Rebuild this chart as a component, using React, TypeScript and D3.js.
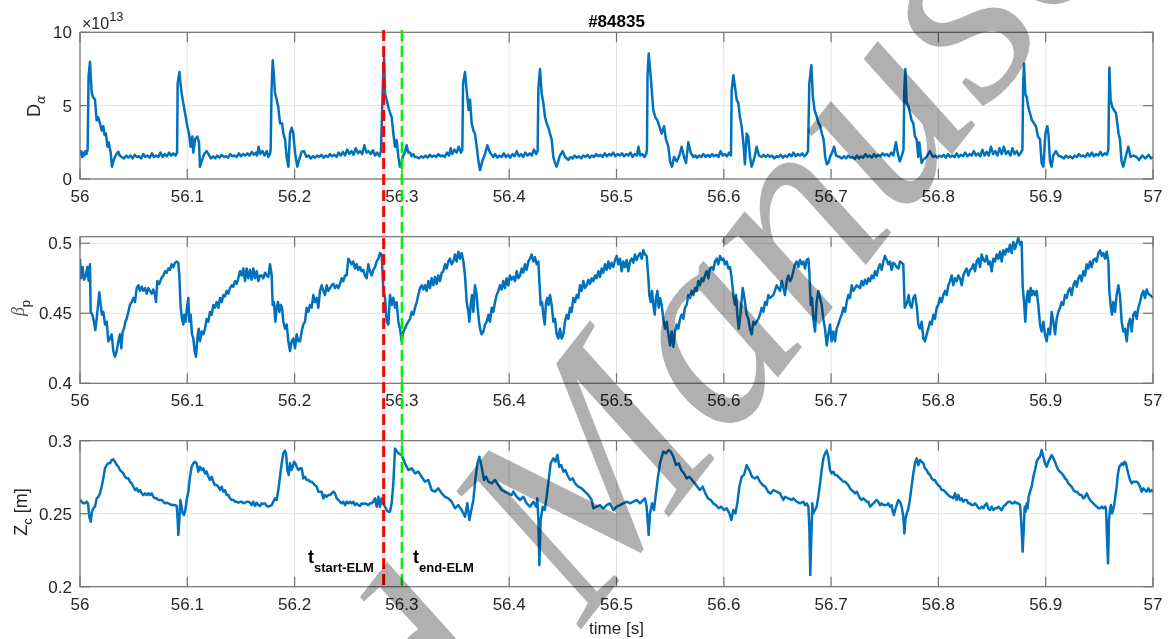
import React from 'react';
import * as d3 from 'd3';

// Times are given in ms after T0 (seconds)
const T0 = 56;

// D-alpha signal, units of 1e13
const dAlpha: [number, number][] = [
  [0,1.6],[1,1.9],[2,1.5],[3,1.8],[4,1.6],[5,1.9],[6,1.7],[7.1,2.0],[8.0,7.0],[9.3,8.0],[10.9,5.9],[12,5.6],[14,5.4],[15.5,4.0],[17,4.2],[18.6,3.8],[20.2,3.3],[21.7,3.6],[23,3.0],[24.2,3.1],[25.5,2.2],[26.7,2.5],[28.6,1.8],[29.8,0.84],[31,1.2],[32.6,1.5],[34,1.7],[35.7,1.86],[37,1.6],[38.8,1.5],[41,1.4],[43,1.6],[45,1.45],[47,1.6],[49,1.4],[51,1.65],[53,1.5],[55,1.55],[57,1.4],[59,1.7],[61,1.5],[63,1.6],[65,1.45],[67,1.75],[69,1.5],[71,1.6],[73,1.5],[75,1.8],[77,1.5],[79,1.7],[81,1.55],[83,1.8],[85,1.6],[87,1.75],[89,1.6],[90.5,1.8],
  [91.0,6.5],[92.6,7.3],[93.5,6.6],[94.8,5.8],[95.7,5.4],[97.9,4.5],[100.0,3.6],[101.6,3.1],[103.1,2.2],[104.7,2.9],[105.6,1.8],[107.2,2.7],[109.4,2.9],[110.9,2.5],[111.8,0.84],[113.4,1.2],[115.6,1.7],[118.1,1.9],[120.5,1.6],[122,1.4],[124,1.55],[126,1.4],[128,1.6],[130,1.45],[132,1.65],[134,1.5],[136,1.55],[138,1.45],[140,1.7],[142,1.55],[144,1.6],[146,1.5],[148,1.75],[150,1.55],[152,1.7],[154,1.6],[156,1.75],[158,1.6],[160,1.85],[162,1.65],[164,1.8],[165,1.6],[166.5,2.2],[168,1.7],[170,1.9],[172,1.6],[174,1.9],[175.5,1.5],[177,1.7],
  [177.7,2.0],[178.5,6.0],[179.6,8.1],[180.8,6.96],[181.7,5.9],[183.3,5.4],[184.8,4.9],[186.4,3.8],[188.3,3.8],[189.5,3.1],[191.1,2.7],[192.6,1.5],[194.2,0.84],[195.7,3.1],[197.3,3.5],[198.8,3.1],[200.4,1.8],[202.5,0.84],[205.0,1.5],[206.6,1.86],[208.8,1.9],[211,1.5],[213,1.6],[215,1.4],[217,1.55],[219,1.45],[221,1.6],[223,1.5],[225,1.65],[227,1.45],[229,1.6],[231,1.5],[233,1.7],[235,1.55],[237,1.65],[239,1.5],[241,1.8],[243,1.6],[245,1.85],[247,1.6],[249,2.0],[251,1.7],[253,1.9],[255,1.65],[257,2.1],[259,1.75],[261,1.9],[263,1.7],[265,2.3],[267,1.8],[269,1.9],[271,1.7],[273,1.95],[275,1.6],[277,1.8],[279,1.55],[280.5,1.9],
  [281.5,4.5],[282.5,7.0],[283.4,8.3],[284.3,5.8],[285.8,5.4],[287.4,4.9],[289,4.5],[290.5,4.2],[292,3.1],[293.6,2.2],[295.1,2.65],[296.7,1.5],[298.2,0.84],[299.5,1.0],[300.7,1.5],[302.9,1.86],[304.4,2.3],[306,1.8],[307.6,1.8],[309,1.55],[310.7,1.7],[312,1.5],[313.8,1.5],[316,1.4],[318,1.55],[320,1.45],[322,1.6],[324,1.45],[326,1.65],[328,1.5],[330,1.6],[332,1.5],[334,1.7],[336,1.55],[338,1.6],[340,1.5],[342,1.8],[344,1.6],[345.5,2.1],[347,1.7],[349,2.0],[351,1.8],[353,2.2],[355,1.8],[356.3,2.0],
  [357,6.5],[358.8,7.3],[360,6.3],[361.0,5.6],[362.2,4.7],[363.5,5.4],[365.0,3.8],[366.6,3.3],[368.1,3.1],[369.7,2.2],[371.2,1.3],[372.8,0.6],[375.3,1.3],[377.5,1.7],[379.6,2.3],[382.1,1.8],[385.2,1.5],[387,1.7],[389,1.45],[391,1.6],[393,1.5],[395,1.75],[397,1.5],[399,1.65],[401,1.45],[403,1.7],[405,1.55],[407,1.9],[409,1.55],[411,1.7],[413,1.5],[415,1.8],[417,1.6],[419,1.75],[421,1.6],[423,2.0],[425,1.7],[426.5,1.9],
  [427.2,6.2],[428.7,7.5],[430.3,5.8],[431.8,5.2],[433.4,4.2],[434.9,3.8],[436.5,3.5],[438.0,3.1],[439.6,2.7],[441.1,1.5],[442.7,1.1],[444.2,0.84],[447.3,1.6],[449.8,1.9],[452.0,1.5],[455.1,1.3],[457,1.5],[459,1.4],[461,1.6],[463,1.45],[465,1.55],[467,1.4],[469,1.6],[471,1.5],[473,1.65],[475,1.45],[477,1.6],[479,1.5],[481,1.7],[483,1.55],[485,1.65],[487,1.5],[489,1.75],[491,1.55],[493,1.7],[495,1.6],[497,1.8],[499,1.55],[501,1.7],[503,1.6],[505,1.75],[507,1.55],[509,1.7],[511,1.6],[513,1.8],[515,1.5],[517,1.7],[519,1.6],[520.5,2.2],[522,1.6],[524,1.7],[526,1.5],[527.7,1.7],[528.4,2.0],
  [528.9,7.0],[530.0,8.55],[531.9,6.96],[532.8,6.1],[534.3,4.7],[536.2,4.2],[538.1,4.0],[539.9,3.6],[542.1,3.1],[544.3,3.6],[546.1,2.7],[548.3,2.2],[549.9,1.2],[551.7,0.84],[553.6,1.5],[556.1,1.2],[558.6,1.6],[560.7,2.2],[562.9,1.5],[564.8,1.1],[566.9,2.5],[569.1,1.8],[571.6,1.5],[573.5,1.6],[575,1.45],[577,1.6],[579,1.5],[581,1.7],[583,1.5],[585,1.65],[587,1.5],[589,1.7],[591,1.55],[593,1.65],[595,1.5],[597,1.9],[599,1.6],[601,1.7],[603,1.55],[605,1.8],[606.7,1.6],
  [607.3,6.0],[608.9,7.07],[610.4,6.3],[612.0,5.4],[613.5,5.2],[615.1,4.2],[616.6,3.6],[618.2,2.5],[619.7,1.0],[621.3,3.1],[622.8,2.9],[624.4,1.5],[625.9,0.84],[627.5,1.2],[629.0,1.6],[630.6,2.2],[632.8,1.6],[635.3,1.5],[637,1.65],[639,1.5],[641,1.65],[643,1.5],[645,1.6],[647,1.4],[649,1.55],[651,1.5],[653,1.65],[655,1.45],[657,1.6],[659,1.5],[661,1.7],[663,1.55],[665,1.8],[667,1.55],[669,1.7],[671,1.6],[673,1.75],[675,1.55],[677,1.7],[678.5,1.9],
  [679.7,6.5],[681.6,7.75],[683,5.6],[684.6,4.7],[686.8,4.2],[688.3,3.8],[689.9,3.6],[691.4,3.1],[693,2.7],[694.5,1.5],[696,1.0],[697.5,1.1],[699,1.5],[701.5,1.9],[702.8,2.2],[704.6,1.6],[708,1.5],[710,1.4],[712,1.55],[714,1.4],[716,1.6],[718,1.45],[720,1.5],[722,1.35],[724,1.6],[726,1.4],[728,1.55],[730,1.45],[732,1.7],[734,1.5],[736,1.6],[738,1.45],[740,1.7],[742,1.5],[744,1.65],[746,1.55],[748,1.75],[750,1.6],[752,1.7],[754,1.55],[756,1.8],[758,1.6],[760.4,2.5],[762,1.8],[764,1.2],[766,1.6],[767.5,2.0],
  [768.2,6.0],[769.2,7.5],[770.4,5.2],[771.9,5.0],[773.5,4.5],[775,4.0],[776.6,3.8],[778.1,2.9],[779.7,2.7],[781.2,1.5],[782.2,2.5],[784.3,1.1],[785.8,1.3],[788.9,1.5],[792,1.9],[795,1.5],[797,1.6],[799,1.45],[801,1.6],[803,1.5],[805,1.65],[807,1.45],[809,1.7],[811,1.5],[813,1.6],[815,1.5],[817,1.75],[819,1.5],[821,1.65],[823,1.55],[825,1.8],[827,1.55],[829,1.7],[831,1.6],[833,1.9],[835,1.6],[837,1.75],[839,1.55],[841,2.0],[843,1.6],[845,1.85],[847,1.6],[849,2.2],[851,1.7],[853,1.9],[855,1.6],[857,2.1],[859,1.7],[861,2.2],[863,1.7],[865,1.9],[867,1.6],[869,2.1],[871,1.7],[873,1.9],[875,1.6],[877,1.8],[878.3,2.0],
  [879,6.5],[879.8,7.87],[881,5.8],[882.3,5.6],[883.8,4.9],[885.3,4.5],[887.2,4.0],[889.1,3.8],[890.9,3.6],[892.8,2.9],[894.7,2.7],[896.2,1.1],[897.8,0.84],[899.7,3.1],[901.5,3.6],[902.7,2.9],[904,1.2],[905.5,0.84],[907,1.6],[909.5,1.9],[911.7,1.6],[915,1.5],[917,1.4],[919,1.6],[921,1.45],[923,1.55],[925,1.4],[927,1.6],[929,1.5],[931,1.7],[933,1.55],[935,1.6],[937,1.5],[939,1.75],[941,1.55],[943,1.8],[945,1.55],[947,1.7],[949,1.6],[951,1.85],[953,1.6],[955,1.75],[957,1.65],[958.4,2.0],
  [959.3,7.6],[960.5,5.4],[962.1,4.9],[963.6,4.7],[965.5,4.5],[966.7,3.8],[967.9,3.1],[969.2,2.7],[970.7,1.2],[972.3,0.84],[974.8,1.6],[977,2.2],[979.1,1.5],[981.6,1.6],[984.7,1.5],[987,1.3],[990,1.6],[993,1.4],[996,1.65],[998,1.4],[1000,1.5],
];

// beta_p
const betaP: [number, number][] = [
  [0,.489],[0.93,.475],[2.49,.483],[3.73,.474],[5.59,.477],[6.83,.483],[8.08,.473],[9.32,.485],[9.94,.451],[11.49,.449],[13.05,.444],[14.29,.438],[15.53,.446],[17.09,.458],[18.02,.465],[19.26,.456],[20.5,.449],[21.75,.451],[23.3,.442],[24.85,.444],[26.41,.430],[27.96,.432],[29.51,.435],[31.07,.423],[32.62,.419],[34.17,.423],[35.73,.430],[37.28,.435],[38.52,.425],[39.76,.437],[41.01,.439],[42.25,.444],[43.49,.446],[45.05,.451],[46.6,.456],[48.15,.458],[49.71,.461],[51.26,.458],[52.81,.468],[54.37,.470],[55.92,.466],[57.47,.469],[59.03,.466],[60.58,.468],[62.13,.464],[63.69,.468],[65.24,.466],[66.79,.464],[68.35,.467],[69.9,.463],[70.83,.458],[72.07,.473],[73.94,.471],[75.8,.475],[77.67,.477],[79.22,.480],[80.77,.479],[82.33,.482],[83.88,.481],[85.43,.485],[86.98,.483],[88.54,.486],[90.09,.487],[91.64,.486],
  [92.58,.477],[93.82,.454],[95.06,.446],[96.3,.442],[97.24,.449],[98.48,.444],[99.72,.454],[100.96,.461],[101.9,.444],[103.14,.449],[104.38,.435],[105.62,.432],[106.87,.423],[108.11,.419],[109.35,.432],[110.59,.439],[111.84,.430],[113.39,.437],[114.94,.435],[116.5,.439],[118.05,.446],[119.6,.444],[121.16,.451],[122.71,.449],[124.26,.456],[125.82,.454],[127.37,.458],[128.92,.454],[130.48,.461],[132.03,.458],[133.58,.463],[135.14,.462],[136.69,.466],[138.24,.464],[139.8,.468],[141.35,.470],[142.9,.469],[144.46,.473],[146.01,.471],[147.56,.475],[149.12,.480],[150.67,.477],[152.22,.482],[153.78,.473],[155.33,.482],[156.88,.475],[158.44,.481],[159.99,.474],[161.54,.482],[163.1,.475],[164.65,.480],[166.2,.473],[167.76,.477],[169.31,.477],[170.86,.475],[172.41,.479],[173.97,.477],[175.52,.476],[177.07,.485],[178.63,.477],
  [179.56,.456],[180.8,.458],[182.05,.444],[183.29,.454],[184.53,.458],[185.77,.451],[187.02,.456],[188.26,.454],[189.5,.444],[191.06,.439],[192.61,.442],[194.16,.430],[195.72,.423],[197.27,.430],[198.82,.432],[200.38,.425],[201.93,.435],[203.48,.430],[205.04,.430],[206.59,.437],[208.14,.442],[209.7,.444],[211.25,.454],[212.8,.451],[214.36,.456],[215.91,.454],[217.46,.463],[219.01,.458],[220.57,.461],[222.12,.454],[223.67,.466],[225.23,.470],[226.78,.466],[228.33,.463],[229.89,.470],[231.44,.466],[232.99,.468],[234.55,.470],[236.1,.471],[237.65,.468],[239.21,.470],[240.76,.468],[242.31,.471],[243.87,.475],[245.42,.473],[246.97,.477],[248.53,.477],[250.08,.489],[251.63,.487],[253.19,.485],[254.74,.487],[256.29,.482],[257.85,.485],[259.4,.481],[260.95,.483],[262.5,.480],[264.06,.481],[265.61,.477],[267.17,.475],[268.72,.485],[270.27,.480],[271.83,.477],[273.38,.481],[274.93,.483],[276.49,.487],[278.04,.489],[279.59,.493],[281.15,.492],
  [282.7,.466],[284.3,.461],[285.8,.444],[287.4,.442],[288.9,.463],[290.5,.456],[292.0,.461],[293.6,.454],[295.1,.458],[296.7,.444],[298.2,.439],[299.8,.430],[301.3,.437],[302.9,.439],[304.4,.442],[306.0,.444],[307.6,.446],[309.1,.451],[310.7,.449],[312.2,.454],[313.8,.458],[315.3,.463],[316.9,.468],[318.4,.470],[320.0,.467],[321.5,.470],[323.1,.466],[324.6,.473],[326.2,.468],[327.7,.475],[329.3,.470],[330.8,.476],[332.4,.471],[333.9,.477],[335.5,.473],[337.1,.479],[338.6,.480],[340.2,.485],[341.7,.482],[343.3,.487],[344.8,.489],[346.4,.485],[347.9,.487],[349.5,.492],[351.0,.487],[352.6,.494],[354.2,.489],[355.7,.493],[357.3,.487],
  [358.8,.477],[360.4,.458],[361.9,.451],[362.9,.444],[364.1,.456],[365.3,.463],[366.6,.451],[368.1,.470],[369.7,.463],[370.6,.454],[371.9,.444],[372.8,.439],[374.3,.435],[375.9,.437],[377.5,.442],[379.0,.444],[380.6,.449],[382.1,.444],[383.7,.454],[385.2,.451],[386.8,.458],[388.3,.463],[389.9,.466],[391.4,.470],[393.0,.467],[394.5,.473],[396.1,.468],[397.6,.475],[399.2,.470],[400.7,.477],[402.3,.474],[403.9,.476],[405.4,.473],[407.0,.480],[408.5,.475],[410.1,.477],[411.6,.482],[413.2,.479],[414.7,.485],[416.3,.481],[417.8,.487],[419.4,.489],[420.9,.492],[422.5,.487],[424.0,.490],[425.6,.485],[427.2,.487],
  [428.1,.473],[429.3,.456],[430.6,.458],[431.8,.449],[433.1,.442],[434.3,.458],[435.5,.461],[436.8,.456],[438.0,.463],[439.6,.456],[441.1,.444],[442.7,.446],[444.2,.435],[445.8,.432],[447.3,.439],[448.9,.432],[450.5,.435],[452.0,.444],[453.6,.449],[455.1,.446],[456.7,.454],[458.2,.451],[459.8,.461],[461.3,.458],[462.9,.463],[464.4,.461],[466.0,.470],[467.5,.466],[469.1,.473],[470.6,.468],[472.2,.470],[473.8,.474],[475.3,.471],[476.9,.475],[478.4,.473],[480.0,.477],[481.5,.475],[483.1,.480],[484.6,.476],[486.2,.482],[487.7,.479],[489.3,.485],[490.8,.481],[492.4,.487],[493.9,.482],[495.5,.486],[497.1,.483],[498.6,.488],[500.2,.491],[501.7,.485],[503.3,.489],[504.8,.480],[506.4,.487],[507.9,.483],[509.5,.488],[511.0,.480],[512.6,.487],[514.1,.489],[515.7,.486],[517.2,.492],[518.8,.488],[520.4,.491],[521.9,.493],[523.5,.489],[525.0,.495],[526.6,.492],[528.1,.491],
  [529.7,.475],[530.6,.463],[531.9,.458],[533.1,.466],[534.3,.456],[535.6,.449],[536.8,.461],[538.1,.466],[539.3,.454],[540.5,.461],[542.1,.456],[543.6,.446],[545.2,.439],[546.8,.444],[548.3,.435],[549.9,.427],[551.4,.437],[553.0,.426],[554.5,.437],[556.1,.442],[557.6,.439],[559.2,.446],[560.7,.449],[562.3,.446],[563.8,.454],[565.4,.456],[566.9,.463],[568.5,.461],[570.1,.466],[571.6,.463],[573.2,.468],[574.7,.466],[576.3,.473],[577.8,.470],[579.4,.475],[580.9,.473],[582.5,.477],[584.0,.480],[585.6,.475],[587.1,.482],[588.7,.483],[590.2,.481],[591.8,.487],[593.4,.489],[594.9,.485],[596.5,.491],[598.0,.488],[599.6,.489],[601.1,.485],[602.7,.487],[604.2,.482],[605.8,.483],
  [607.3,.475],[608.9,.463],[610.4,.456],[611.4,.463],[612.6,.449],[613.9,.439],[615.1,.446],[616.3,.456],[617.6,.468],[618.8,.463],[620.1,.456],[621.3,.449],[622.9,.446],[624.4,.439],[626.0,.435],[627.5,.444],[629.1,.442],[630.6,.444],[632.2,.446],[633.7,.449],[635.3,.454],[636.9,.451],[638.4,.458],[640.0,.456],[641.5,.463],[643.1,.461],[646.2,.463],[649.3,.470],[652.4,.466],[654.0,.473],[655.5,.468],[657.0,.463],[658.6,.473],[660.1,.477],[661.7,.473],[663.2,.475],[664.8,.480],[666.4,.485],[667.9,.487],[669.5,.483],[671.0,.488],[672.6,.485],[674.1,.487],[675.7,.482],[677.2,.488],[678.8,.489],
  [679.7,.480],[681.0,.456],[682.2,.461],[683.4,.446],[685.0,.437],[686.5,.458],[688.1,.466],[689.7,.461],[691.2,.456],[692.8,.446],[694.3,.439],[695.9,.427],[697.4,.435],[699.0,.442],[700.5,.430],[702.1,.437],[703.6,.430],[705.2,.439],[706.7,.442],[708.3,.446],[709.9,.449],[711.4,.454],[713.0,.451],[714.5,.458],[716.1,.463],[717.6,.461],[719.2,.470],[720.7,.466],[722.3,.468],[723.8,.470],[725.4,.469],[726.9,.468],[728.5,.473],[730.0,.470],[731.6,.474],[733.2,.471],[734.7,.475],[736.3,.473],[737.8,.477],[739.4,.475],[740.9,.480],[742.5,.477],[744.0,.482],[745.6,.485],[747.1,.481],[748.7,.487],[750.2,.491],[751.8,.488],[753.3,.485],[754.9,.487],[756.4,.481],[758.0,.486],[759.6,.485],[761.1,.483],[762.7,.482],[764.2,.487],[765.8,.486],[767.3,.485],
  [768.6,.454],[769.8,.456],[771.0,.458],[772.3,.463],[773.5,.456],[775.1,.454],[776.6,.461],[778.2,.463],[779.7,.456],[781.3,.442],[782.9,.439],[784.4,.444],[786.0,.432],[787.5,.430],[789.1,.435],[790.6,.439],[792.2,.444],[793.7,.442],[795.3,.449],[796.8,.446],[798.4,.454],[799.9,.456],[801.5,.461],[803.0,.458],[804.6,.463],[806.2,.466],[807.7,.463],[809.3,.470],[810.8,.473],[812.4,.477],[813.9,.470],[815.5,.475],[817.0,.473],[818.6,.477],[820.1,.475],[821.7,.470],[823.2,.477],[824.8,.480],[826.3,.482],[827.9,.477],[829.5,.481],[831.0,.482],[832.6,.485],[834.1,.480],[835.7,.487],[837.2,.489],[838.8,.483],[840.3,.492],[841.9,.488],[843.4,.487],[845.0,.491],[846.5,.485],[848.1,.487],[849.6,.480],[851.2,.489],[852.8,.487],[854.3,.492],[855.9,.489],[857.4,.494],[859.0,.487],[860.5,.495],[862.1,.492],[863.6,.496],[865.2,.494],[866.7,.499],[868.3,.493],[869.8,.501],[871.4,.496],[872.9,.500],[874.5,.504],[876.1,.499],[877.6,.501],
  [878.5,.470],[879.8,.458],[881.0,.444],[882.3,.461],[883.5,.466],[884.7,.458],[886.0,.468],[887.2,.463],[888.5,.466],[890.0,.463],[891.6,.466],[893.1,.456],[894.7,.442],[896.2,.437],[897.8,.444],[899.3,.435],[900.9,.430],[902.5,.439],[904.0,.435],[905.6,.451],[907.1,.444],[908.7,.435],[910.2,.446],[911.8,.451],[913.3,.454],[914.9,.458],[916.4,.456],[918.0,.463],[919.5,.461],[921.1,.466],[922.7,.468],[924.2,.463],[925.8,.470],[927.3,.473],[928.9,.469],[930.4,.475],[932.0,.477],[933.5,.473],[935.1,.480],[936.6,.477],[938.2,.485],[939.7,.482],[941.3,.487],[942.8,.483],[944.4,.488],[945.9,.489],[947.5,.487],[949.1,.493],[950.6,.495],[952.2,.491],[953.7,.493],[955.3,.489],[956.8,.494],[958.4,.487],
  [959.3,.466],[960.5,.456],[961.8,.449],[963.0,.458],[964.6,.451],[966.1,.463],[967.7,.470],[969.2,.463],[970.8,.444],[972.4,.437],[973.9,.439],[975.5,.430],[977.0,.442],[978.6,.446],[980.1,.437],[981.7,.449],[983.2,.451],[984.8,.446],[986.3,.454],[987.9,.458],[989.4,.463],[991.0,.466],[992.5,.461],[994.1,.467],[995.7,.464],[997.2,.463],[998.8,.462],[1000,.461],
];

// Z_c [m]
const zC: [number, number][] = [
  [0,.2594],[1.55,.2582],[3.11,.2571],[4.66,.2571],[6.21,.2582],[7.46,.2571],[8.7,.2479],[9.94,.2445],[11.18,.2514],[12.43,.2537],[13.98,.2548],[15.53,.2605],[17.09,.2616],[18.64,.2639],[20.19,.2685],[21.75,.2742],[23.3,.2811],[24.85,.2834],[26.41,.2845],[27.96,.2845],[29.51,.2868],[31.07,.2872],[32.62,.2856],[34.17,.2834],[35.73,.2822],[37.28,.2799],[38.83,.2788],[40.39,.2776],[41.94,.2753],[43.49,.2742],[45.05,.2742],[46.6,.2719],[48.15,.2708],[49.71,.2685],[51.26,.2662],[52.81,.2674],[54.37,.2651],[55.92,.2662],[57.47,.2639],[59.03,.2628],[60.58,.2639],[62.13,.2628],[63.69,.2639],[65.24,.2628],[66.79,.2639],[68.35,.2616],[69.9,.2605],[71.45,.2605],[73.01,.2594],[74.56,.2594],[76.11,.2594],[77.67,.2582],[79.22,.2571],[80.77,.2575],[82.33,.2571],[83.88,.2566],[85.43,.2559],[86.98,.2559],[88.54,.2559],[90.09,.2553],
  [91.02,.2457],[91.64,.2354],[92.58,.2457],[93.51,.2594],[94.44,.2559],[95.68,.2502],[96.92,.2491],[98.17,.2525],[99.41,.2594],[100.96,.2651],[102.52,.2753],[104.07,.2822],[105.62,.2845],[107.18,.2856],[108.73,.2845],[110.28,.2788],[111.84,.2822],[113.39,.2799],[114.94,.2811],[116.5,.2776],[118.05,.2788],[119.6,.2753],[121.16,.2731],[122.71,.2753],[124.26,.2719],[125.82,.2696],[127.37,.2696],[128.92,.2685],[130.48,.2662],[132.03,.2685],[133.58,.2651],[135.14,.2662],[136.69,.2628],[138.24,.2628],[139.8,.2605],[141.35,.2594],[142.9,.2594],[144.46,.2582],[146.01,.2582],[147.56,.2575],[149.12,.2582],[150.67,.2582],[152.22,.2571],[153.78,.2575],[155.33,.2582],[156.88,.2582],[158.44,.2575],[159.99,.2559],[161.54,.2582],[163.1,.2553],[164.65,.2575],[166.2,.2559],[167.76,.2553],[169.31,.2571],[170.86,.2566],[172.41,.2571],[173.97,.2553],[175.52,.2548],[177.07,.2553],[178.63,.2559],
  [180.18,.2582],[181.73,.2605],[183.29,.2594],[184.84,.2662],[186.4,.2753],[187.95,.2845],[189.5,.2913],[191.06,.2932],[192.0,.2913],[193.24,.2799],[194.48,.2765],[195.72,.2845],[196.96,.2799],[198.2,.2822],[199.45,.2856],[200.69,.2845],[201.93,.2822],[203.48,.2799],[205.04,.2811],[206.59,.2811],[208.14,.2742],[209.7,.2753],[211.25,.2731],[212.8,.2731],[214.36,.2719],[215.91,.2719],[217.46,.2708],[219.01,.2696],[220.57,.2685],[222.12,.2651],[223.67,.2651],[225.23,.2651],[226.78,.2605],[228.33,.2628],[229.89,.2616],[231.44,.2628],[232.99,.2628],[234.55,.2639],[236.1,.2651],[237.65,.2639],[239.21,.2605],[240.76,.2594],[242.31,.2582],[243.87,.2571],[245.42,.2582],[246.97,.2559],[248.53,.2582],[250.08,.2571],[251.63,.2582],[253.19,.2571],[254.74,.2582],[256.29,.2559],[257.85,.2571],[259.4,.2559],[260.95,.2553],[262.5,.2571],[264.06,.2566],[265.61,.2571],[267.17,.2566],[268.72,.2559],[270.27,.2571],[271.83,.2571],[273.38,.2582],[274.93,.2605],[276.49,.2548],[278.04,.2616],[279.59,.2548],[281.15,.2605],[282.7,.2571],[284.25,.2548],[285.81,.2525],[287.36,.2514],[288.91,.2514],[290.47,.2571],[292.02,.2708],
  [293.57,.2947],[296.7,.2913],[299.8,.2902],[302.9,.2845],[306.0,.2799],[309.1,.2811],[312.2,.2776],[315.3,.2788],[318.4,.2753],[321.5,.2719],[324.6,.2731],[327.7,.2662],[330.8,.2651],[333.9,.2674],[337.1,.2639],[340.2,.2616],[343.3,.2605],[346.4,.2582],[349.5,.2537],[352.6,.2559],[355.7,.2525],[358.8,.2479],[361.0,.2571],[362.9,.2457],[364.7,.2525],[366.6,.2594],[368.4,.2731],[370.3,.2845],[372.2,.2890],[374.3,.2822],[376.5,.2731],[378.4,.2753],[380.6,.2719],[383.7,.2708],[386.8,.2731],[389.9,.2696],[393.0,.2662],[396.1,.2651],[399.2,.2639],[402.3,.2628],[403.9,.2651],[407.0,.2616],[410.1,.2594],[413.2,.2616],[416.3,.2571],[419.4,.2548],[422.5,.2582],[425.0,.2548],[426.2,.2605],
  [427.2,.2457],[428.1,.2148],[429.3,.2457],[431.2,.2548],[433.1,.2525],[434.9,.2616],[436.8,.2731],[438.6,.2845],[441.1,.2879],[443.0,.2856],[444.9,.2902],[446.7,.2822],[448.6,.2833],[450.5,.2788],[452.3,.2799],[454.2,.2765],[456.7,.2731],[459.2,.2742],[461.3,.2708],[464.4,.2685],[467.5,.2674],[470.6,.2651],[473.8,.2628],[476.9,.2594],[478.4,.2537],[481.5,.2548],[484.6,.2559],[487.7,.2537],[490.8,.2559],[493.9,.2571],[497.1,.2525],[500.2,.2548],[503.3,.2559],[506.4,.2571],[509.5,.2582],[512.6,.2571],[515.7,.2582],[518.8,.2594],[521.9,.2571],[525.0,.2594],[526.6,.2605],[528.1,.2548],
  [530.0,.2354],[531.2,.2502],[533.1,.2571],[534.9,.2525],[536.8,.2639],[538.7,.2753],[540.5,.2845],[543.6,.2925],[546.1,.2913],[548.6,.2936],[550.5,.2925],[553.0,.2890],[555.5,.2833],[557.9,.2845],[560.4,.2799],[562.9,.2776],[565.4,.2742],[567.9,.2753],[570.4,.2731],[572.9,.2708],[575.3,.2685],[577.8,.2662],[580.3,.2685],[582.8,.2639],[585.3,.2605],[587.8,.2594],[590.2,.2571],[592.7,.2559],[595.2,.2537],[597.7,.2548],[600.2,.2525],[602.7,.2537],[605.2,.2502],[607.0,.2457],[608.9,.2525],[610.8,.2502],[612.6,.2571],[614.5,.2685],[616.7,.2753],[618.8,.2765],[621.3,.2833],[623.8,.2799],[626.3,.2753],[628.8,.2742],[631.3,.2753],[633.7,.2719],[636.2,.2696],[638.7,.2685],[641.2,.2651],[643.7,.2639],[646.2,.2662],[649.3,.2651],[652.4,.2639],[655.5,.2594],[657.0,.2616],[660.1,.2605],[663.2,.2594],[664.8,.2605],[667.9,.2582],[671.0,.2571],[674.1,.2582],[675.7,.2559],[677.2,.2571],[678.8,.2548],
  [679.7,.2411],[680.6,.2080],[681.6,.2342],[682.5,.2571],[683.4,.2502],[685.0,.2525],[686.5,.2548],[688.1,.2616],[689.7,.2708],[691.2,.2799],[692.8,.2879],[694.3,.2913],[695.9,.2932],[697.4,.2890],[699.0,.2799],[700.5,.2776],[702.1,.2788],[703.6,.2765],[705.2,.2765],[706.7,.2753],[708.3,.2742],[709.9,.2731],[711.4,.2719],[713.0,.2719],[714.5,.2708],[716.1,.2696],[717.6,.2674],[719.2,.2662],[720.7,.2651],[722.3,.2639],[723.8,.2651],[725.4,.2628],[726.9,.2605],[728.5,.2594],[730.0,.2605],[731.6,.2594],[733.2,.2582],[734.7,.2582],[736.3,.2548],[737.8,.2559],[739.4,.2571],[740.9,.2582],[742.5,.2594],[744.0,.2582],[745.6,.2559],[747.1,.2571],[748.7,.2559],[750.2,.2559],[751.8,.2559],[753.3,.2571],[754.9,.2548],[756.4,.2559],[757.4,.2514],[758.6,.2491],[759.6,.2525],[761.1,.2559],[762.7,.2594],[764.2,.2582],[765.8,.2548],[767.3,.2479],
  [768.3,.2365],[769.2,.2457],[770.4,.2502],[771.7,.2525],[772.9,.2571],[774.2,.2639],[775.4,.2708],[776.6,.2776],[778.2,.2845],[779.7,.2879],[781.3,.2833],[782.9,.2868],[784.4,.2856],[786.0,.2845],[787.5,.2811],[789.1,.2799],[790.6,.2776],[792.2,.2765],[793.7,.2742],[795.3,.2731],[796.8,.2731],[798.4,.2708],[799.9,.2696],[801.5,.2685],[803.0,.2662],[804.6,.2662],[806.2,.2651],[807.7,.2639],[809.3,.2628],[810.8,.2616],[812.4,.2616],[813.9,.2605],[815.5,.2639],[817.0,.2594],[818.6,.2628],[820.1,.2594],[821.7,.2605],[823.2,.2582],[824.8,.2594],[826.3,.2594],[827.9,.2571],[829.5,.2571],[831.0,.2559],[832.6,.2559],[834.1,.2571],[835.7,.2559],[837.2,.2537],[838.8,.2537],[840.3,.2548],[841.9,.2537],[843.4,.2559],[845.0,.2571],[846.5,.2537],[848.1,.2525],[849.6,.2548],[851.2,.2525],[852.8,.2537],[854.3,.2537],[855.9,.2548],[857.4,.2537],[859.0,.2525],[860.5,.2548],[862.1,.2559],[863.6,.2571],[865.2,.2582],[866.7,.2582],[868.3,.2571],[869.8,.2571],[871.4,.2582],[872.9,.2571],[874.5,.2571],[876.1,.2559],[876.7,.2502],
  [877.6,.2388],[878.5,.2240],[879.5,.2388],[880.4,.2548],[881.3,.2514],[882.3,.2571],[883.2,.2537],[884.1,.2616],[885.4,.2651],[886.9,.2685],[888.5,.2753],[890.0,.2799],[891.6,.2856],[893.1,.2879],[894.7,.2890],[896.2,.2936],[897.8,.2890],[899.3,.2845],[900.9,.2822],[902.5,.2856],[904.0,.2879],[905.6,.2902],[907.1,.2879],[908.7,.2856],[910.2,.2822],[911.8,.2799],[913.3,.2788],[914.9,.2776],[916.4,.2765],[918.0,.2742],[919.5,.2731],[921.1,.2708],[922.7,.2696],[924.2,.2685],[925.8,.2662],[927.3,.2651],[928.9,.2651],[930.4,.2639],[932.0,.2628],[933.5,.2628],[935.1,.2605],[936.6,.2616],[938.2,.2639],[939.7,.2616],[941.3,.2594],[942.8,.2582],[944.4,.2571],[945.9,.2559],[947.5,.2548],[949.1,.2537],[950.6,.2537],[952.2,.2548],[953.7,.2537],[955.3,.2548],[956.2,.2537],
  [957.1,.2342],[958.1,.2160],[959.0,.2457],[959.9,.2525],[960.8,.2559],[961.8,.2502],[962.7,.2525],[963.6,.2548],[964.9,.2616],[966.1,.2685],[967.4,.2776],[968.6,.2822],[969.9,.2833],[971.1,.2845],[972.4,.2833],[973.6,.2856],[974.8,.2845],[976.1,.2799],[977.3,.2765],[978.6,.2731],[980.1,.2708],[981.7,.2719],[983.2,.2719],[984.8,.2719],[986.3,.2708],[987.9,.2685],[989.4,.2651],[991.0,.2674],[992.5,.2662],[994.1,.2651],[995.7,.2674],[997.2,.2651],[998.8,.2662],[1000,.2651],
];

const xTicks = [56, 56.1, 56.2, 56.3, 56.4, 56.5, 56.6, 56.7, 56.8, 56.9, 57];
const xTickLabels = ['56', '56.1', '56.2', '56.3', '56.4', '56.5', '56.6', '56.7', '56.8', '56.9', '57'];
const dAlphaTicks = [0, 5, 10];
const dAlphaTickLabels = ['0', '5', '10'];
const betaTicks = [0.4, 0.45, 0.5];
const betaTickLabels = ['0.4', '0.45', '0.5'];
const zTicks = [0.2, 0.25, 0.3];
const zTickLabels = ['0.2', '0.25', '0.3'];
const tStartELM = 56.283;
const tEndELM = 56.3;
const shotTitle = '#84835';
const watermarkLead = 'Accepted\u00A0';
const watermarkMain = 'Manuscript';

const W = 1168;
const H = 639;
const FONT = '"Liberation Sans", Arial, Helvetica, sans-serif';
const AX = '#737373';
const TXT = '#262626';
const LINE = '#0072BD';

const x = d3.scaleLinear().domain([56, 57]).range([80, 1153]);

type Panel = {
  id: string;
  data: [number, number][];
  y: d3.ScaleLinear<number, number>;
  ticks: number[];
  labels: string[];
};

const panels: Panel[] = [
  { id: 'da', data: dAlpha, y: d3.scaleLinear().domain([0, 10]).range([179, 32.3]), ticks: dAlphaTicks, labels: dAlphaTickLabels },
  { id: 'bp', data: betaP, y: d3.scaleLinear().domain([0.4, 0.5047]).range([383.3, 236.7]), ticks: betaTicks, labels: betaTickLabels },
  { id: 'zc', data: zC, y: d3.scaleLinear().domain([0.2, 0.3]).range([586.7, 440.7]), ticks: zTicks, labels: zTickLabels },
];

function PanelView({ p }: { p: Panel }) {
  const [y0, y1] = p.y.range();
  const top = Math.min(y0, y1);
  const bottom = Math.max(y0, y1);
  const [xl, xr] = x.range();
  const line = d3
    .line<[number, number]>()
    .x((d) => x(T0 + d[0] / 1000))
    .y((d) => p.y(d[1]));
  const tl = 10;
  return (
    <g>
      <defs>
        <clipPath id={`clip-${p.id}`}>
          <rect x={xl} y={top} width={xr - xl} height={bottom - top} />
        </clipPath>
      </defs>
      {xTicks.map((t) => (
        <line key={`gx${t}`} x1={x(t)} x2={x(t)} y1={top} y2={bottom} stroke="#e3e3e3" strokeWidth={1} />
      ))}
      {p.ticks.map((t) => (
        <line key={`gy${t}`} x1={xl} x2={xr} y1={p.y(t)} y2={p.y(t)} stroke="#e3e3e3" strokeWidth={1} />
      ))}
      <path d={line(p.data) || ''} fill="none" stroke={LINE} strokeWidth={2.5} strokeLinejoin="round" clipPath={`url(#clip-${p.id})`} />
      <rect x={xl} y={top} width={xr - xl} height={bottom - top} fill="none" stroke={AX} strokeWidth={1.2} />
      {xTicks.map((t) => (
        <g key={`tx${t}`}>
          <line x1={x(t)} x2={x(t)} y1={bottom} y2={bottom - tl} stroke={AX} strokeWidth={1.2} />
          <line x1={x(t)} x2={x(t)} y1={top} y2={top + tl} stroke={AX} strokeWidth={1.2} />
        </g>
      ))}
      {p.ticks.map((t) => (
        <g key={`ty${t}`}>
          <line x1={xl} x2={xl + tl} y1={p.y(t)} y2={p.y(t)} stroke={AX} strokeWidth={1.2} />
          <line x1={xr} x2={xr - tl} y1={p.y(t)} y2={p.y(t)} stroke={AX} strokeWidth={1.2} />
        </g>
      ))}
      {xTicks.map((t, i) => (
        <text key={`lx${t}`} x={x(t)} y={bottom + 23} textAnchor="middle" fontFamily={FONT} fontSize={17} fill={TXT}>
          {xTickLabels[i]}
        </text>
      ))}
      {p.ticks.map((t, i) => (
        <text key={`ly${t}`} x={xl - 8} y={p.y(t) + 6} textAnchor="end" fontFamily={FONT} fontSize={17} fill={TXT}>
          {p.labels[i]}
        </text>
      ))}
    </g>
  );
}

export default function App() {
  const yTop = 30;
  const yBot = panels[2].y(0.2);
  const wmX = 583;
  const wmY = 627;
  const wmStyle = {
    fontFamily: '"Liberation Serif", "Times New Roman", serif',
    fontStyle: 'italic' as const,
    fontSize: 280,
    fill: '#b0b0b0',
    mixBlendMode: 'multiply' as const,
  };
  return (
    <svg width={W} height={H} style={{ position: 'absolute', left: 0, top: 0, background: '#fff' }}>
      <rect x={0} y={0} width={W} height={H} fill="#fff" />
      {panels.map((p) => (
        <PanelView key={p.id} p={p} />
      ))}
      {/* title & exponent */}
      <text x={(x(56) + x(57)) / 2} y={27} textAnchor="middle" fontFamily={FONT} fontWeight="bold" fontSize={17} fill="#000">
        {shotTitle}
      </text>
      <text x={82} y={29} fontFamily={FONT} fontSize={16} fill={TXT}>
        ×10<tspan fontSize={13} dy={-8}>13</tspan>
      </text>
      {/* y labels */}
      <text transform="translate(40,106) rotate(-90)" textAnchor="middle" fontFamily={FONT} fontSize={18} fill={TXT}>
        D<tspan fontSize={13} dy={5} fontFamily='"DejaVu Serif", serif' fontStyle="italic">α</tspan>
      </text>
      <text transform="translate(24,308) rotate(-90)" textAnchor="middle" fontFamily='"Liberation Serif", serif' fontSize={18} fill="#555">
        <tspan fontStyle="italic">β</tspan>
        <tspan fontSize={13} dy={6} fontFamily={FONT} fill={TXT}>p</tspan>
      </text>
      <text transform="translate(27,512) rotate(-90)" textAnchor="middle" fontFamily={FONT} fontSize={18} fill={TXT}>
        Z<tspan fontSize={13} dy={5}>c</tspan>
        <tspan dy={-5}> [m]</tspan>
      </text>
      <text x={(x(56) + x(57)) / 2} y={634} textAnchor="middle" fontFamily={FONT} fontSize={17} fill={TXT}>
        time [s]
      </text>
      {/* ELM markers */}
      <line x1={x(tStartELM)} x2={x(tStartELM)} y1={yTop} y2={yBot} stroke="#ff0000" strokeWidth={3} strokeDasharray="11 5" />
      <line x1={x(tEndELM)} x2={x(tEndELM)} y1={yTop} y2={yBot} stroke="#00ee00" strokeWidth={2.5} strokeDasharray="11 5" />
      <text x={308} y={563} fontFamily={FONT} fontWeight="bold" fontSize={18} fill="#000">
        t<tspan fontSize={13} dy={9}>start-ELM</tspan>
      </text>
      <text x={413} y={563} fontFamily={FONT} fontWeight="bold" fontSize={18} fill="#000">
        t<tspan fontSize={13} dy={9}>end-ELM</tspan>
      </text>
      {/* watermark */}
      <g transform={`rotate(-52 ${wmX} ${wmY})`}>
        <text x={wmX} y={wmY} textAnchor="end" style={wmStyle}>
          {watermarkLead}
        </text>
        <text x={wmX} y={wmY} textAnchor="start" style={wmStyle}>
          {watermarkMain}
        </text>
      </g>
    </svg>
  );
}
